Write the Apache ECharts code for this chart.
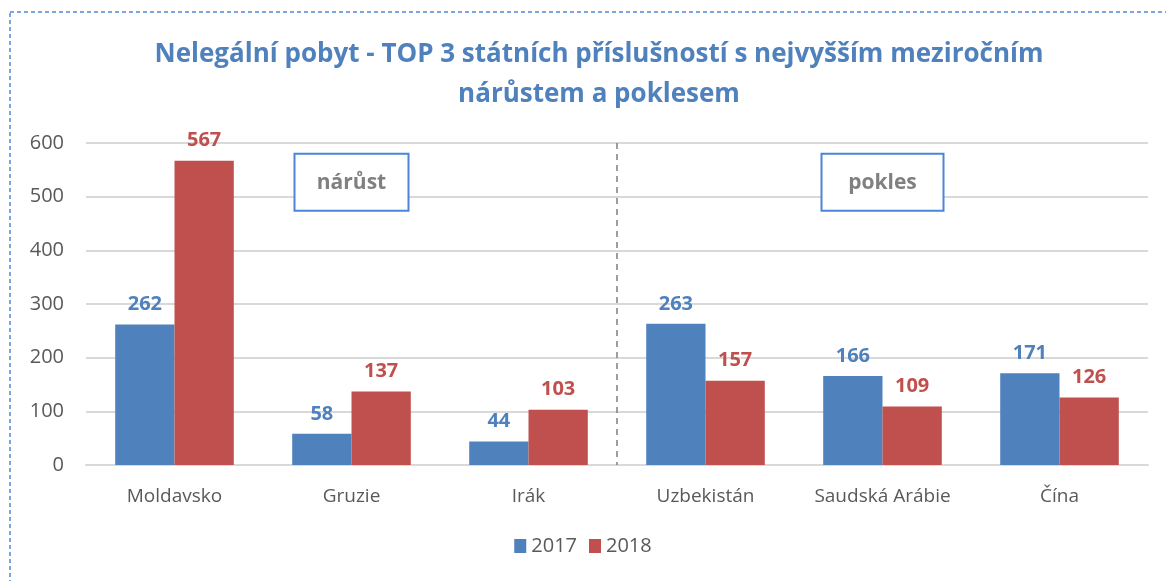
<!DOCTYPE html>
<html>
<head>
<meta charset="utf-8">
<script src="https://cdn.jsdelivr.net/npm/echarts@6/dist/echarts.min.js"></script>
<style>
html,body{margin:0;padding:0;background:#fff;}
#chart{width:1166px;height:581px;}
</style>
</head>
<body>
<div id="chart"></div>
<script>
var myChart = echarts.init(document.getElementById("chart"));

// data
var countries = ['Moldavsko', 'Gruzie', 'Irák', 'Uzbekistán', 'Saudská Arábie', 'Čína'];
var val2017 = [262, 58, 44, 263, 166, 171];
var val2018 = [567, 137, 103, 157, 109, 126];
var years = ['2017', '2018'];
var boxTexts = ['nárůst', 'pokles'];

var fontName = '"Open Sans", "Noto Sans", sans-serif';
var blue = '#4F81BD';
var red = '#C0504D';

function labelFor(color) {
    return {
        show: true,
        position: 'top',
        distance: 10,
        color: color,
        fontWeight: 'bold',
        fontSize: 20,
        fontFamily: fontName
    };
}

var option = {
    backgroundColor: '#fff',
    animation: false,
    title: {
        text: 'Nelegální pobyt - TOP 3 státních příslušností s nejvyšším meziročním\nnárůstem a poklesem',
        left: 594,
        textAlign: 'center',
        top: 30,
        textStyle: {
            color: blue,
            fontSize: 26,
            fontWeight: 'bold',
            fontFamily: fontName,
            lineHeight: 40
        }
    },
    legend: {
        data: years,
        bottom: 20,
        left: 'center',
        itemWidth: 12,
        itemHeight: 14,
        itemGap: 12,
        icon: 'rect',
        textStyle: {color: '#595959', fontSize: 20, fontFamily: fontName}
    },
    grid: {
        left: 86,
        right: 18,
        top: 143,
        bottom: 116
    },
    xAxis: {
        type: 'category',
        data: countries,
        axisTick: {show: false},
        axisLine: {lineStyle: {color: '#d9d9d9', width: 2}},
        axisLabel: {color: '#595959', fontSize: 19, margin: 22, interval: 0, fontFamily: fontName}
    },
    yAxis: {
        type: 'value',
        min: 0,
        max: 600,
        interval: 100,
        axisLine: {show: false},
        axisTick: {show: false},
        axisLabel: {color: '#595959', fontSize: 20, margin: 22, fontFamily: fontName},
        splitLine: {lineStyle: {color: '#d9d9d9', width: 2}}
    },
    series: [
        {
            name: years[0],
            type: 'bar',
            data: val2017,
            barGap: '0%',
            barCategoryGap: '33%',
            itemStyle: {color: blue},
            label: labelFor(blue)
        },
        {
            name: years[1],
            type: 'bar',
            data: val2018,
            itemStyle: {color: red},
            label: labelFor(red)
        }
    ]
};

myChart.setOption(option);

// annotations: separator between groups and the two text boxes
var sepX = (myChart.convertToPixel({xAxisIndex: 0}, 2) + myChart.convertToPixel({xAxisIndex: 0}, 3)) / 2;
var yTop = myChart.convertToPixel({yAxisIndex: 0}, 600);
var yBot = myChart.convertToPixel({yAxisIndex: 0}, 0);
var box1 = myChart.convertToPixel({xAxisIndex: 0}, 1);
var box2 = myChart.convertToPixel({xAxisIndex: 0}, 4);
var boxY = myChart.convertToPixel({yAxisIndex: 0}, 580);

function box(cx, w, txt) {
    return {
        type: 'group',
        z: 10,
        children: [
            {
                type: 'rect',
                shape: {x: cx - w / 2, y: boxY, width: w, height: 57},
                style: {fill: '#fff', stroke: '#4a86d8', lineWidth: 2}
            },
            {
                type: 'text',
                x: cx,
                y: boxY + 29,
                style: {
                    text: txt,
                    fill: '#808080',
                    font: 'bold 21px ' + fontName,
                    align: 'center',
                    verticalAlign: 'middle'
                }
            }
        ]
    };
}

myChart.setOption({
    graphic: [
        {
            type: 'rect',
            shape: {x: 10, y: 12, width: 1170, height: 600},
            style: {fill: 'none', stroke: '#4f8ad8', lineWidth: 1.5, lineDash: [4, 3]},
            silent: true
        },
        {
            type: 'line',
            shape: {x1: sepX, y1: yTop, x2: sepX, y2: yBot},
            style: {stroke: '#7f7f7f', lineWidth: 1.5, lineDash: [6, 5]},
            z: 5
        },
        box(box1, 114, boxTexts[0]),
        box(box2, 122, boxTexts[1])
    ]
});
</script>
</body>
</html>
